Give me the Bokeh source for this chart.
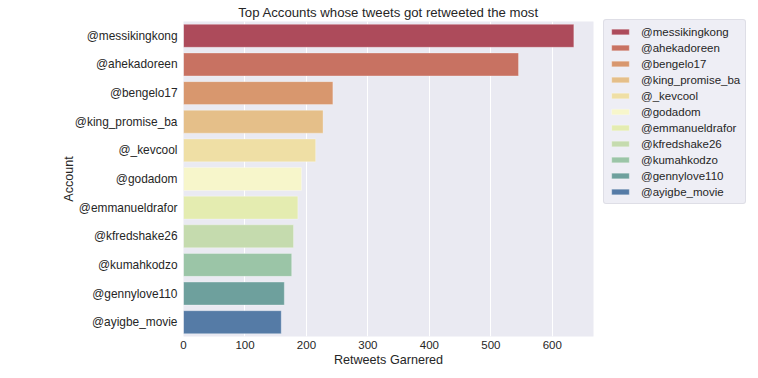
from bokeh.plotting import figure
from bokeh.models import ColumnDataSource, FactorRange, Range1d, FixedTicker, Legend, LegendItem
from bokeh.embed import file_html
from bokeh.resources import INLINE

accounts = ["@messikingkong", "@ahekadoreen", "@bengelo17", "@king_promise_ba", "@_kevcool",
            "@godadom", "@emmanueldrafor", "@kfredshake26", "@kumahkodzo", "@gennylove110",
            "@ayigbe_movie"]
retweets = [635, 545, 243, 227, 215, 192, 186, 179, 176, 164, 159]
x_ticks = [0, 100, 200, 300, 400, 500, 600]

colors = ["#ad4b5b", "#c87262", "#d8976e", "#e5bf89", "#efdfa5", "#f7f6cb",
          "#e4ecb0", "#c5dbae", "#9bc5a7", "#6ea09d", "#557ba6"]

source = ColumnDataSource(dict(account=accounts, retweets=retweets, color=colors))

FONT = "Liberation Sans"
TXT = "#262626"
FW, FH = 410, 315

p = figure(frame_width=FW, frame_height=FH, output_backend="svg", toolbar_location=None,
           y_range=FactorRange(factors=list(reversed(accounts))),
           x_range=Range1d(0, 667),
           min_border_left=183, min_border_right=0, min_border_top=21, min_border_bottom=42)
p.background_fill_color = "#eaeaf2"
p.border_fill_color = "white"
p.outline_line_color = None

r = p.hbar(y="account", right="retweets", left=0, height=0.8, source=source,
           fill_color="color", line_color="white", line_width=0.5, line_alpha=0.6)

p.title.text = "Top Accounts whose tweets got retweeted the most"
p.title.align = "center"
p.title.text_font = FONT
p.title.text_font_size = "13.2px"
p.title.text_font_style = "normal"
p.title.text_color = TXT
p.title.offset = 0
p.title.standoff = 3

for ax in (p.xaxis[0], p.yaxis[0]):
    ax.axis_line_color = None
    ax.major_tick_line_color = None
    ax.minor_tick_line_color = None
    ax.major_tick_out = 0
    ax.major_tick_in = 0
    ax.minor_tick_out = 0
    ax.minor_tick_in = 0
    ax.major_label_text_font = FONT
    ax.major_label_text_color = TXT
    ax.axis_label_text_font = FONT
    ax.axis_label_text_font_size = "12.6px"
    ax.axis_label_text_font_style = "normal"
    ax.axis_label_text_color = TXT

p.xaxis.ticker = FixedTicker(ticks=x_ticks)
p.xaxis.major_label_text_font_size = "11.5px"
p.yaxis.major_label_text_font_size = "11.9px"
p.xaxis.axis_label = "Retweets Garnered"
p.xaxis.major_label_standoff = 4
p.xaxis.axis_label_standoff = 1
p.yaxis.axis_label = "Account"
p.yaxis.major_label_standoff = 6
p.yaxis.axis_label_standoff = -4

p.xgrid.grid_line_color = "white"
p.xgrid.grid_line_width = 1
p.ygrid.grid_line_color = None

items = [LegendItem(label=a, renderers=[r], index=i) for i, a in enumerate(accounts)]
legend = Legend(items=items)
legend.label_text_font = FONT
legend.label_text_font_size = "11.5px"
legend.label_text_color = TXT
legend.glyph_width = 22
legend.glyph_height = 7
legend.label_height = 13
legend.label_standoff = 10
legend.spacing = 3
legend.padding = 5
legend.margin = 0
LEG_H = len(accounts) * 13 + (len(accounts) - 1) * 3 + 2 * 5
legend.location = (10, FH - LEG_H)
legend.background_fill_color = "#eaeaf2"
legend.background_fill_alpha = 0.8
legend.border_line_color = "#d0d0d8"
legend.border_line_width = 1
legend.border_radius = 3
p.add_layout(legend, "right")

open("out.html", "w").write(file_html(p, INLINE))
